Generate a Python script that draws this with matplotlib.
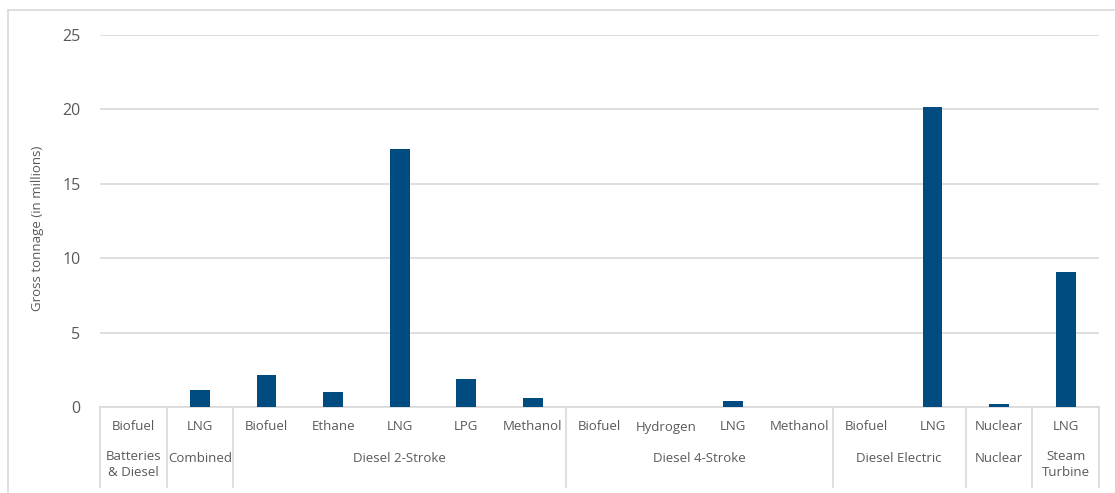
import matplotlib
matplotlib.use("Agg")
import matplotlib.pyplot as plt
from matplotlib.lines import Line2D

fuels = ["Biofuel", "LNG", "Biofuel", "Ethane", "LNG", "LPG", "Methanol",
         "Biofuel", "Hydrogen", "LNG", "Methanol", "Biofuel", "LNG", "Nuclear", "LNG"]
groups = ["Batteries\n& Diesel", "Combined", "Diesel 2-Stroke", "Diesel 4-Stroke",
          "Diesel Electric", "Nuclear", "Steam\nTurbine"]
group_sizes = [1, 1, 5, 4, 2, 1, 1]
values = [0.0, 1.14, 2.15, 1.0, 17.35, 1.87, 0.58,
          0.0, 0.0, 0.38, 0.0, 0.0, 20.15, 0.2, 9.07]
yticks = [0, 5, 10, 15, 20, 25]

plt.rcParams['font.family'] = ['Open Sans', 'DejaVu Sans']
W, H = 1115, 493
fig = plt.figure(figsize=(W / 100, H / 100), dpi=100)

# outer chart border (cropped at right/bottom)
fig.add_artist(Line2D([8 / W, 8 / W], [1 - 10 / H, 0], transform=fig.transFigure,
                      color="#d9d9d9", lw=1.2))
fig.add_artist(Line2D([8 / W, 1.0], [1 - 10 / H, 1 - 10 / H], transform=fig.transFigure,
                      color="#d9d9d9", lw=1.2))

left, right = 100 / W, 1099 / W
bottom, top = 1 - 407 / H, 1 - 35 / H
ax = fig.add_axes([left, bottom, right - left, top - bottom])

n = len(values)
x = list(range(n))
ax.bar(x, values, width=0.3, color="#004c80", zorder=3)
ax.set_xlim(-0.5, n - 0.5)
ax.set_ylim(0, 25)
ax.set_yticks(yticks)
ax.set_yticklabels([str(t) for t in yticks], fontsize=11.5, color="#595959")
ax.tick_params(axis="y", length=0, pad=14)
ax.set_xticks([])
ax.grid(axis="y", color="#d9d9d9", lw=1.2, zorder=0)
for s in ["top", "right", "left"]:
    ax.spines[s].set_visible(False)
ax.spines["bottom"].set_color("#d9d9d9")
ax.spines["bottom"].set_linewidth(1.2)
fig.text(38 / W, 1 - 228 / H, "Gross tonnage (in millions)", rotation=90,
         ha="center", va="center", fontsize=9.5, color="#595959")

trans = ax.get_xaxis_transform()
span = 407 - 35
y_row1 = -(427 - 407) / span
y_row2 = -(459 - 407) / span
y_row2_top = -(450 - 407) / span
y_sep_end = -(487 - 407) / span

for i, f in enumerate(fuels):
    ax.text(i, y_row1, f, transform=trans, ha="center", va="center",
            fontsize=9.5, color="#595959")

start = 0
bounds = [-0.5]
for g, size in zip(groups, group_sizes):
    center = start + (size - 1) / 2
    if "\n" in g:
        ax.text(center, y_row2_top, g, transform=trans, ha="center", va="top",
                fontsize=9.5, color="#595959", linespacing=1.25)
    else:
        ax.text(center, y_row2, g, transform=trans, ha="center", va="center",
                fontsize=9.5, color="#595959")
    start += size
    bounds.append(start - 0.5)

for b in bounds:
    ax.add_line(Line2D([b, b], [0, y_sep_end], transform=trans, color="#d9d9d9",
                       lw=1.2, clip_on=False))

fig.savefig("out.png", dpi=100)
